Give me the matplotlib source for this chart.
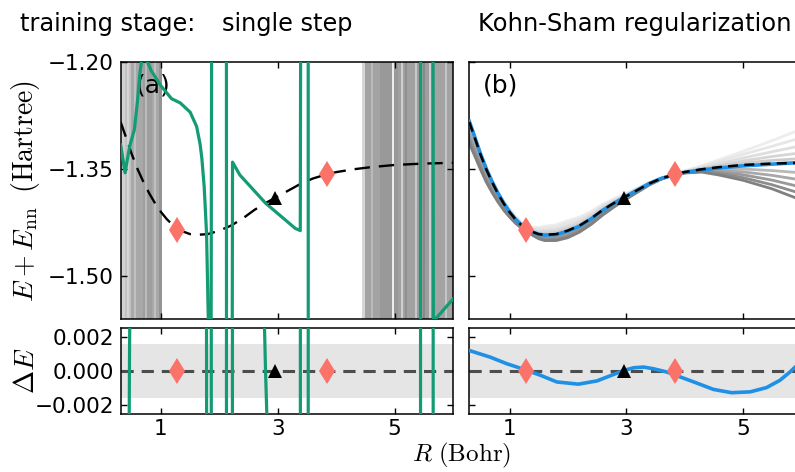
import numpy as np
import matplotlib.pyplot as plt

plt.rcParams['font.family'] = 'DejaVu Sans'
plt.rcParams['mathtext.fontset'] = 'cm'

# exact dissociation curve (Hartree vs Bohr)
R_exact = [0.31, 0.40, 0.50, 0.60, 0.70, 0.80, 0.90, 1.00, 1.10, 1.20, 1.30,
           1.40, 1.50, 1.60, 1.80, 2.00, 2.20, 2.40, 2.60, 2.80, 3.00, 3.20,
           3.40, 3.60, 3.80, 4.00, 4.30, 4.60, 5.00, 5.50, 6.00]
E_exact = [-1.284, -1.305, -1.329, -1.350, -1.368, -1.384, -1.398, -1.410,
           -1.420, -1.428, -1.434, -1.438, -1.441, -1.442, -1.441, -1.436,
           -1.429, -1.419, -1.407, -1.397, -1.388, -1.379, -1.370, -1.363,
           -1.358, -1.354, -1.350, -1.347, -1.344, -1.342, -1.341]

# training (diamonds) and validation (triangle) molecules
R_train = [1.28, 3.84]
E_train = [-1.435, -1.357]
R_val = [2.96]
E_val = [-1.390]

# single step model prediction (runs off the axes a lot)
R_single = [0.31, 0.385, 0.46, 0.545, 0.60, 0.635, 0.665, 0.70, 0.75, 0.834,
            0.99, 1.18, 1.33, 1.50, 1.61, 1.67, 1.70, 1.74, 1.78, 1.81, 1.83,
            1.87, 2.12, 2.125, 2.19, 2.225, 2.35, 2.79, 3.30, 3.385, 3.395,
            3.52, 3.525, 5.44, 5.445, 5.655, 5.665, 5.70, 6.00]
E_single = [-1.316, -1.355, -1.319, -1.294, -1.252, -1.218, -1.200, -1.188,
            -1.196, -1.212, -1.232, -1.251, -1.257, -1.270, -1.290, -1.315,
            -1.335, -1.375, -1.440, -1.560, -3.0, -1.0, -1.0, -3.0, -3.0,
            -1.340, -1.358, -1.3975, -1.433, -1.436, -1.0, -1.0, -3.0, -3.0,
            -1.0, -1.0, -1.62, -1.56, -1.532]

# KS regularized model: error against exact
R_ks_err = [0.31, 0.67, 0.95, 1.28, 1.53, 1.81, 2.18, 2.50, 2.78, 2.96, 3.13,
            3.30, 3.47, 3.70, 4.16, 4.50, 4.81, 5.13, 5.41, 5.64, 5.81, 5.90,
            6.00]
dE_ks = [0.00120, 0.00081, 0.00043, 0.00006, -0.00025, -0.00064, -0.00077,
         -0.00058, -0.00021, 0.00003, 0.00019, 0.00023, 0.00013, -0.00006,
         -0.00064, -0.00108, -0.00127, -0.00122, -0.00097, -0.00054,
         -0.00006, 0.00023, 0.00050]

# KS panel: other training steps, as offsets from exact
R_grey = [0.31, 0.5, 0.75, 1.0, 1.28, 1.6, 2.0, 2.5, 3.0, 3.4, 3.85, 4.3,
          4.8, 5.4, 6.0]
dev_grey = [
    [0.002, 0.002, 0.003, 0.004, 0.004, 0.012, 0.014, 0.009, 0.004, 0.001, 0.0, 0.005, 0.014, 0.029, 0.047],
    [0.002, 0.002, 0.002, 0.003, 0.003, 0.009, 0.011, 0.007, 0.003, 0.001, 0.0, 0.004, 0.011, 0.022, 0.035],
    [0.001, 0.001, 0.001, 0.002, 0.002, 0.006, 0.007, 0.005, 0.002, 0.001, 0.0, 0.002, 0.007, 0.015, 0.024],
    [0.001, 0.001, 0.001, 0.001, 0.001, 0.004, 0.004, 0.003, 0.001, 0.0, 0.0, 0.001, 0.004, 0.009, 0.014],
    [0.0, 0.0, 0.0, 0.0, 0.0, 0.002, 0.002, 0.001, 0.0, 0.0, 0.0, 0.001, 0.002, 0.004, 0.006],
    [-0.008, -0.006, -0.004, -0.002, -0.001, -0.002, -0.003, -0.002, -0.001, 0.0, 0.0, -0.001, -0.004, -0.009, -0.014],
    [-0.014, -0.010, -0.006, -0.003, -0.001, -0.004, -0.005, -0.004, -0.002, -0.001, 0.0, -0.002, -0.007, -0.015, -0.024],
    [-0.020, -0.014, -0.009, -0.004, -0.002, -0.005, -0.006, -0.005, -0.003, -0.001, 0.0, -0.003, -0.010, -0.021, -0.034],
    [-0.025, -0.017, -0.011, -0.006, -0.003, -0.006, -0.008, -0.006, -0.003, -0.001, 0.0, -0.003, -0.013, -0.027, -0.043],
    [-0.030, -0.021, -0.013, -0.007, -0.003, -0.008, -0.010, -0.008, -0.004, -0.002, 0.0, -0.004, -0.016, -0.032, -0.052],
]
shade_grey = [0.93, 0.90, 0.87, 0.84, 0.80, 0.72, 0.66, 0.60, 0.55, 0.50]

# single step panel: other steps oscillate so hard they look like vertical bands
band_lo = [0.31, 0.385, 0.48, 0.70, 0.85, 0.97, 4.44, 4.50, 4.75, 5.05, 5.35, 5.70]
band_hi = [0.385, 0.48, 0.70, 0.85, 0.97, 1.02, 4.50, 4.75, 5.05, 5.35, 5.70, 6.00]
band_shade = [0.82, 0.76, 0.66, 0.62, 0.66, 0.58, 0.84, 0.64, 0.60, 0.63, 0.62, 0.64]
streak_R = [0.44, 0.55, 0.75, 0.90, 4.97, 5.13, 5.36, 5.61, 5.88, 4.62, 5.20, 5.50]
streak_shade = [0.85, 0.78, 0.76, 0.78, 1.0, 0.85, 0.82, 0.85, 0.80, 0.75, 0.55, 0.52]

chem_acc = 0.0016

green = '#139c74'
blue = '#1e90e6'
salmon = '#fa7268'

W, H = 795, 472
fig = plt.figure(figsize=(W / 100, H / 100), dpi=100)


def box(l, r, t, b):
    return [l / W, 1 - b / H, (r - l) / W, (b - t) / H]


ax_a = fig.add_axes(box(120.7, 453, 62.3, 319))
ax_c = fig.add_axes(box(120.7, 453, 328.3, 413.7))
ax_b = fig.add_axes(box(469.3, 801, 62.3, 319))
ax_d = fig.add_axes(box(469.3, 801, 328.3, 413.7))

E_ex = np.array(E_exact)

# (a) single step
for lo, hi, s in zip(band_lo, band_hi, band_shade):
    ax_a.axvspan(lo, hi, color=str(s), lw=0, zorder=1)
for r, s in zip(streak_R, streak_shade):
    ax_a.axvline(r, color=str(s), lw=1.2, zorder=1)
ax_a.plot(R_exact, E_exact, color='k', ls='--', lw=1.7, dashes=(6.5, 3.8), zorder=3)
ax_a.plot(R_single, E_single, color=green, lw=2.3, zorder=4)

# (b) KS regularization
for dev, s in zip(dev_grey, shade_grey):
    ax_b.plot(R_exact, E_ex + np.interp(R_exact, R_grey, dev), color=str(s), lw=2, zorder=1)
E_ks = E_ex + np.interp(R_exact, R_ks_err, dE_ks)
ax_b.plot(R_exact, E_ks, color=blue, lw=2.6, zorder=3)
ax_b.plot(R_exact, E_exact, color='k', ls='--', lw=1.8, dashes=(4, 2.5), zorder=4)

for ax in (ax_a, ax_b):
    ax.plot(R_train, E_train, 'd', color=salmon, ms=13, mew=0, zorder=5)
    ax.plot(R_val, E_val, '^', color='k', ms=10, mew=0, zorder=5)
    ax.set_ylim(-1.56, -1.20)
    ax.set_yticks([-1.50, -1.35, -1.20])

# errors
dE_single = np.array(E_single) - np.interp(R_single, R_exact, E_exact)
ax_c.plot(R_single, dE_single, color=green, lw=2.3, zorder=4)
ax_d.plot(R_ks_err, dE_ks, color=blue, lw=2.6, zorder=4)
for ax in (ax_c, ax_d):
    ax.axhspan(-chem_acc, chem_acc, color='#e5e5e5', lw=0, zorder=0)
    ax.axhline(0, color='#4d4d4d', ls='--', lw=2.2, dashes=(4, 2.6), zorder=2)
    ax.plot(R_train, np.zeros(len(R_train)), 'd', color=salmon, ms=13, mew=0, zorder=5)
    ax.plot(R_val, np.zeros(len(R_val)), '^', color='k', ms=10, mew=0, zorder=5)
    ax.set_ylim(-0.0025, 0.0025)
    ax.set_yticks([-0.002, 0.0, 0.002])

for ax in (ax_a, ax_b, ax_c, ax_d):
    ax.set_xlim(0.31, 6.0)
    ax.set_xticks([1, 3, 5])
    ax.tick_params(direction='in', length=4.5, width=1, top=True, right=True,
                   labelsize=15.5, pad=5)
    for sp in ax.spines.values():
        sp.set_linewidth(1.1)

ax_a.set_xticklabels([])
ax_b.set_xticklabels([])
ax_b.set_yticklabels([])
ax_d.set_yticklabels([])
ax_a.set_yticklabels(['\u22121.50', '\u22121.35', '\u22121.20'])
ax_c.set_yticklabels(['\u22120.002', '0.000', '0.002'])
ax_c.tick_params(axis='x', pad=3.5)
ax_d.tick_params(axis='x', pad=3.5)

ax_a.text(0.045, 0.955, '(a)', transform=ax_a.transAxes, fontsize=18, va='top')
ax_b.text(0.041, 0.955, '(b)', transform=ax_b.transAxes, fontsize=18, va='top')

ax_a.text(0.5, 1.122, 'single step', transform=ax_a.transAxes, fontsize=17.3,
          ha='center', va='baseline')
ax_a.text(-0.303, 1.122, 'training stage:', transform=ax_a.transAxes, fontsize=17.3,
          ha='left', va='baseline')
ax_b.text(0.5, 1.122, 'Kohn-Sham regularization', transform=ax_b.transAxes,
          fontsize=17.5, ha='center', va='baseline')

fig.text(26 / W, 1 - 190.7 / H, r'$E+E_{\rm nn}\;\;(\rm Hartree)$', rotation=90,
         ha='center', va='center', fontsize=20)
fig.text(26 / W, 1 - 371 / H, r'$\Delta E$', rotation=90,
         ha='center', va='center', fontsize=20)
fig.text(462 / W, 1 - 470.5 / H, r'$R\ (\rm Bohr)$', ha='center', va='bottom',
         fontsize=18)

fig.savefig('out.png', dpi=100)
